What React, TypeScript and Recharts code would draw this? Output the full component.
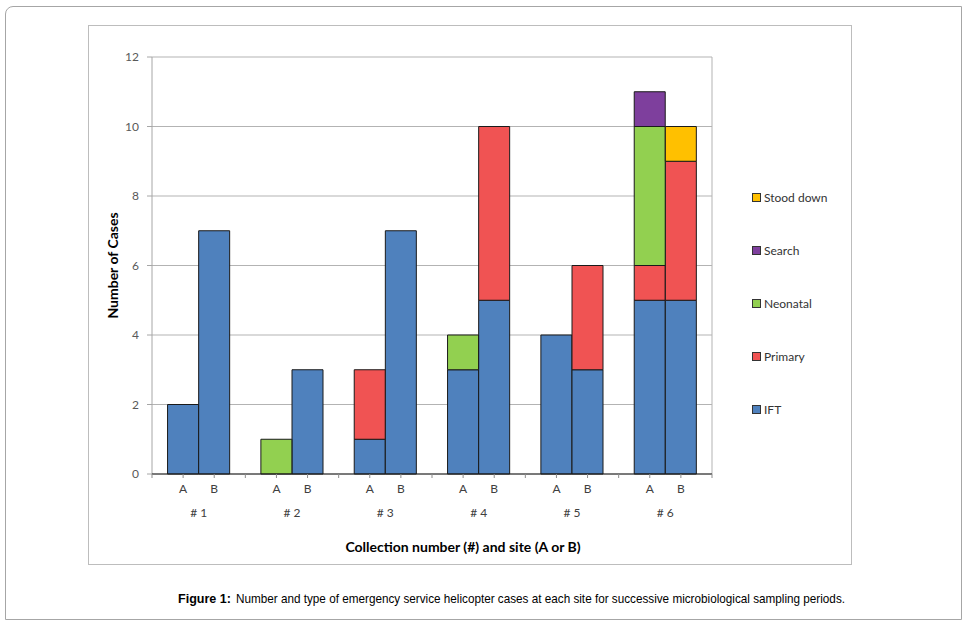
import React from 'react';
import {
  BarChart,
  Bar,
  XAxis,
  YAxis,
  CartesianGrid,
  Legend,
  ReferenceLine,
} from 'recharts';

// ---- Data ----
const GROUPS = ['# 1', '# 2', '# 3', '# 4', '# 5', '# 6'];
const SITES = ['A', 'B'];
// one value per bar, order: #1A, #1B, #2A, #2B, ... #6A, #6B
const IFT = [2, 7, 0, 3, 1, 7, 3, 5, 4, 3, 5, 5];
const PRIMARY = [0, 0, 0, 0, 2, 0, 0, 5, 0, 3, 1, 4];
const NEONATAL = [0, 0, 1, 0, 0, 0, 1, 0, 0, 0, 4, 0];
const SEARCH = [0, 0, 0, 0, 0, 0, 0, 0, 0, 0, 1, 0];
const STOOD_DOWN = [0, 0, 0, 0, 0, 0, 0, 0, 0, 0, 0, 1];
const Y_TICKS = [0, 2, 4, 6, 8, 10, 12];

const SERIES = [
  { key: 'IFT', name: 'IFT', values: IFT, color: '#4F81BD' },
  { key: 'Primary', name: 'Primary', values: PRIMARY, color: '#F05353' },
  { key: 'Neonatal', name: 'Neonatal', values: NEONATAL, color: '#92D050' },
  { key: 'Search', name: 'Search', values: SEARCH, color: '#7E3F9D' },
  { key: 'Stood', name: 'Stood down', values: STOOD_DOWN, color: '#FFC000' },
];

// slots: each group = A, B, gap ; axis spans 0..(groups*3)
const SLOTS = GROUPS.length * 3;
const data = GROUPS.flatMap((g, gi) =>
  SITES.map((s, si) => {
    const idx = gi * SITES.length + si;
    const row: any = { pos: gi * 3 + si + 1, site: s, group: g };
    SERIES.forEach((ser) => {
      const v = ser.values[idx];
      row[ser.key] = v ? v : null;
    });
    return row;
  })
);
const siteTicks = Array.from({ length: SLOTS + 1 }, (_, i) => i);
const groupTicks = GROUPS.map((_, gi) => gi * 3 + 1.5);
const siteLabel = (v: number) => {
  const r = data.find((d) => d.pos === v);
  return r ? r.site : '';
};
const groupLabel = (v: number) => {
  const r = data.find((d) => d.pos === v - 0.5);
  return r ? r.group : '';
};

const FONT = 'Lato, "Open Sans", sans-serif';

const LegendContent = () => (
  <div style={{ fontFamily: FONT, fontSize: 12, color: '#333' }}>
    {[...SERIES].reverse().map((s) => (
      <div
        key={s.key}
        style={{ height: 53, display: 'flex', alignItems: 'center' }}
      >
        <span
          style={{
            display: 'inline-block',
            width: 7,
            height: 7,
            background: s.color,
            border: '1px solid #333',
            marginRight: 3,
          }}
        />
        <span>{s.name}</span>
      </div>
    ))}
  </div>
);

export default function App() {
  return (
    <div
      style={{
        position: 'relative',
        width: 970,
        height: 629,
        background: '#fff',
        overflow: 'hidden',
      }}
    >
      <style>{`body{margin:0;}`}</style>
      {/* outer frame */}
      <div
        style={{
          position: 'absolute',
          left: 5,
          top: 6,
          width: 957,
          height: 614,
          boxSizing: 'border-box',
          border: '1px solid #a6a6a6',
          borderTopLeftRadius: 8,
        }}
      />
      {/* chart frame */}
      <div
        style={{
          position: 'absolute',
          left: 88,
          top: 25,
          width: 764,
          height: 540,
          boxSizing: 'border-box',
          border: '1px solid #bdbdbd',
        }}
      />
      <div style={{ position: 'absolute', left: 88, top: 25 }}>
        <BarChart
          width={764}
          height={540}
          data={data}
          margin={{ top: 32, right: 140, left: 24, bottom: 31 }}
          barGap={0}
          barCategoryGap={0}
        >
          <CartesianGrid vertical={false} stroke="#b3b3b3" strokeWidth={1} />
          <YAxis
            type="number"
            domain={[0, 12]}
            ticks={Y_TICKS}
            width={40}
            tickSize={5}
            tickMargin={8}
            axisLine={{ stroke: '#a6a6a6' }}
            tickLine={{ stroke: '#a6a6a6' }}
            tick={{ fontFamily: FONT, fontSize: 12, fill: '#595959' }}
            label={{
              value: 'Number of Cases',
              angle: -90,
              position: 'center',
              dx: -19,
              style: {
                fontFamily: FONT,
                fontSize: 14,
                fontWeight: 'bold',
                fill: '#000',
              },
            }}
          />
          <XAxis
            xAxisId={0}
            dataKey="pos"
            type="number"
            domain={[0, SLOTS]}
            ticks={siteTicks}
            interval={0}
            height={30}
            tickSize={4}
            tickMargin={6}
            tickFormatter={siteLabel}
            axisLine={{ stroke: '#1a1a1a' }}
            tickLine={{ stroke: '#8c8c8c' }}
            tick={{ fontFamily: FONT, fontSize: 12, fill: '#404040' }}
          />
          <XAxis
            xAxisId="group"
            dataKey="pos"
            type="number"
            domain={[0, SLOTS]}
            ticks={groupTicks}
            interval={0}
            height={30}
            tickSize={0}
            tickMargin={4}
            tickFormatter={groupLabel}
            axisLine={false}
            tickLine={false}
            tick={{ fontFamily: FONT, fontSize: 12, fill: '#404040' }}
            label={{
              value: 'Collection number (#) and site (A or B)',
              position: 'center',
              dx: 31,
              dy: 28,
              style: {
                fontFamily: FONT,
                fontSize: 14,
                fontWeight: 'bold',
                fill: '#000',
              },
            }}
          />
          <ReferenceLine x={SLOTS} stroke="#b3b3b3" />
          {SERIES.map((s) => (
            <Bar
              key={s.key}
              dataKey={s.key}
              name={s.name}
              stackId="a"
              fill={s.color}
              stroke="#1a1a1a"
              strokeWidth={1}
              barSize={31}
              isAnimationActive={false}
            />
          ))}
          <Legend
            layout="horizontal"
            verticalAlign="middle"
            align="center"
            content={<LegendContent />}
            wrapperStyle={{ left: 664, top: 146, width: 100, height: 270 }}
          />
        </BarChart>
      </div>
      <svg
        width={970}
        height={629}
        style={{ position: 'absolute', left: 0, top: 0, pointerEvents: 'none' }}
      >
        <text
          x={178}
          y={603}
          textLength={53}
          lengthAdjust="spacingAndGlyphs"
          fontWeight="bold"
          style={{ fontFamily: '"Liberation Sans", Arial, sans-serif', fontSize: 13.5 }}
          fill="#000"
        >
          Figure 1:
        </text>
        <text
          x={236}
          y={603}
          textLength={609}
          lengthAdjust="spacingAndGlyphs"
          style={{ fontFamily: '"Liberation Sans", Arial, sans-serif', fontSize: 13.5 }}
          fill="#000"
        >
          Number and type of emergency service helicopter cases at each site for successive microbiological sampling periods.
        </text>
      </svg>
    </div>
  );
}
